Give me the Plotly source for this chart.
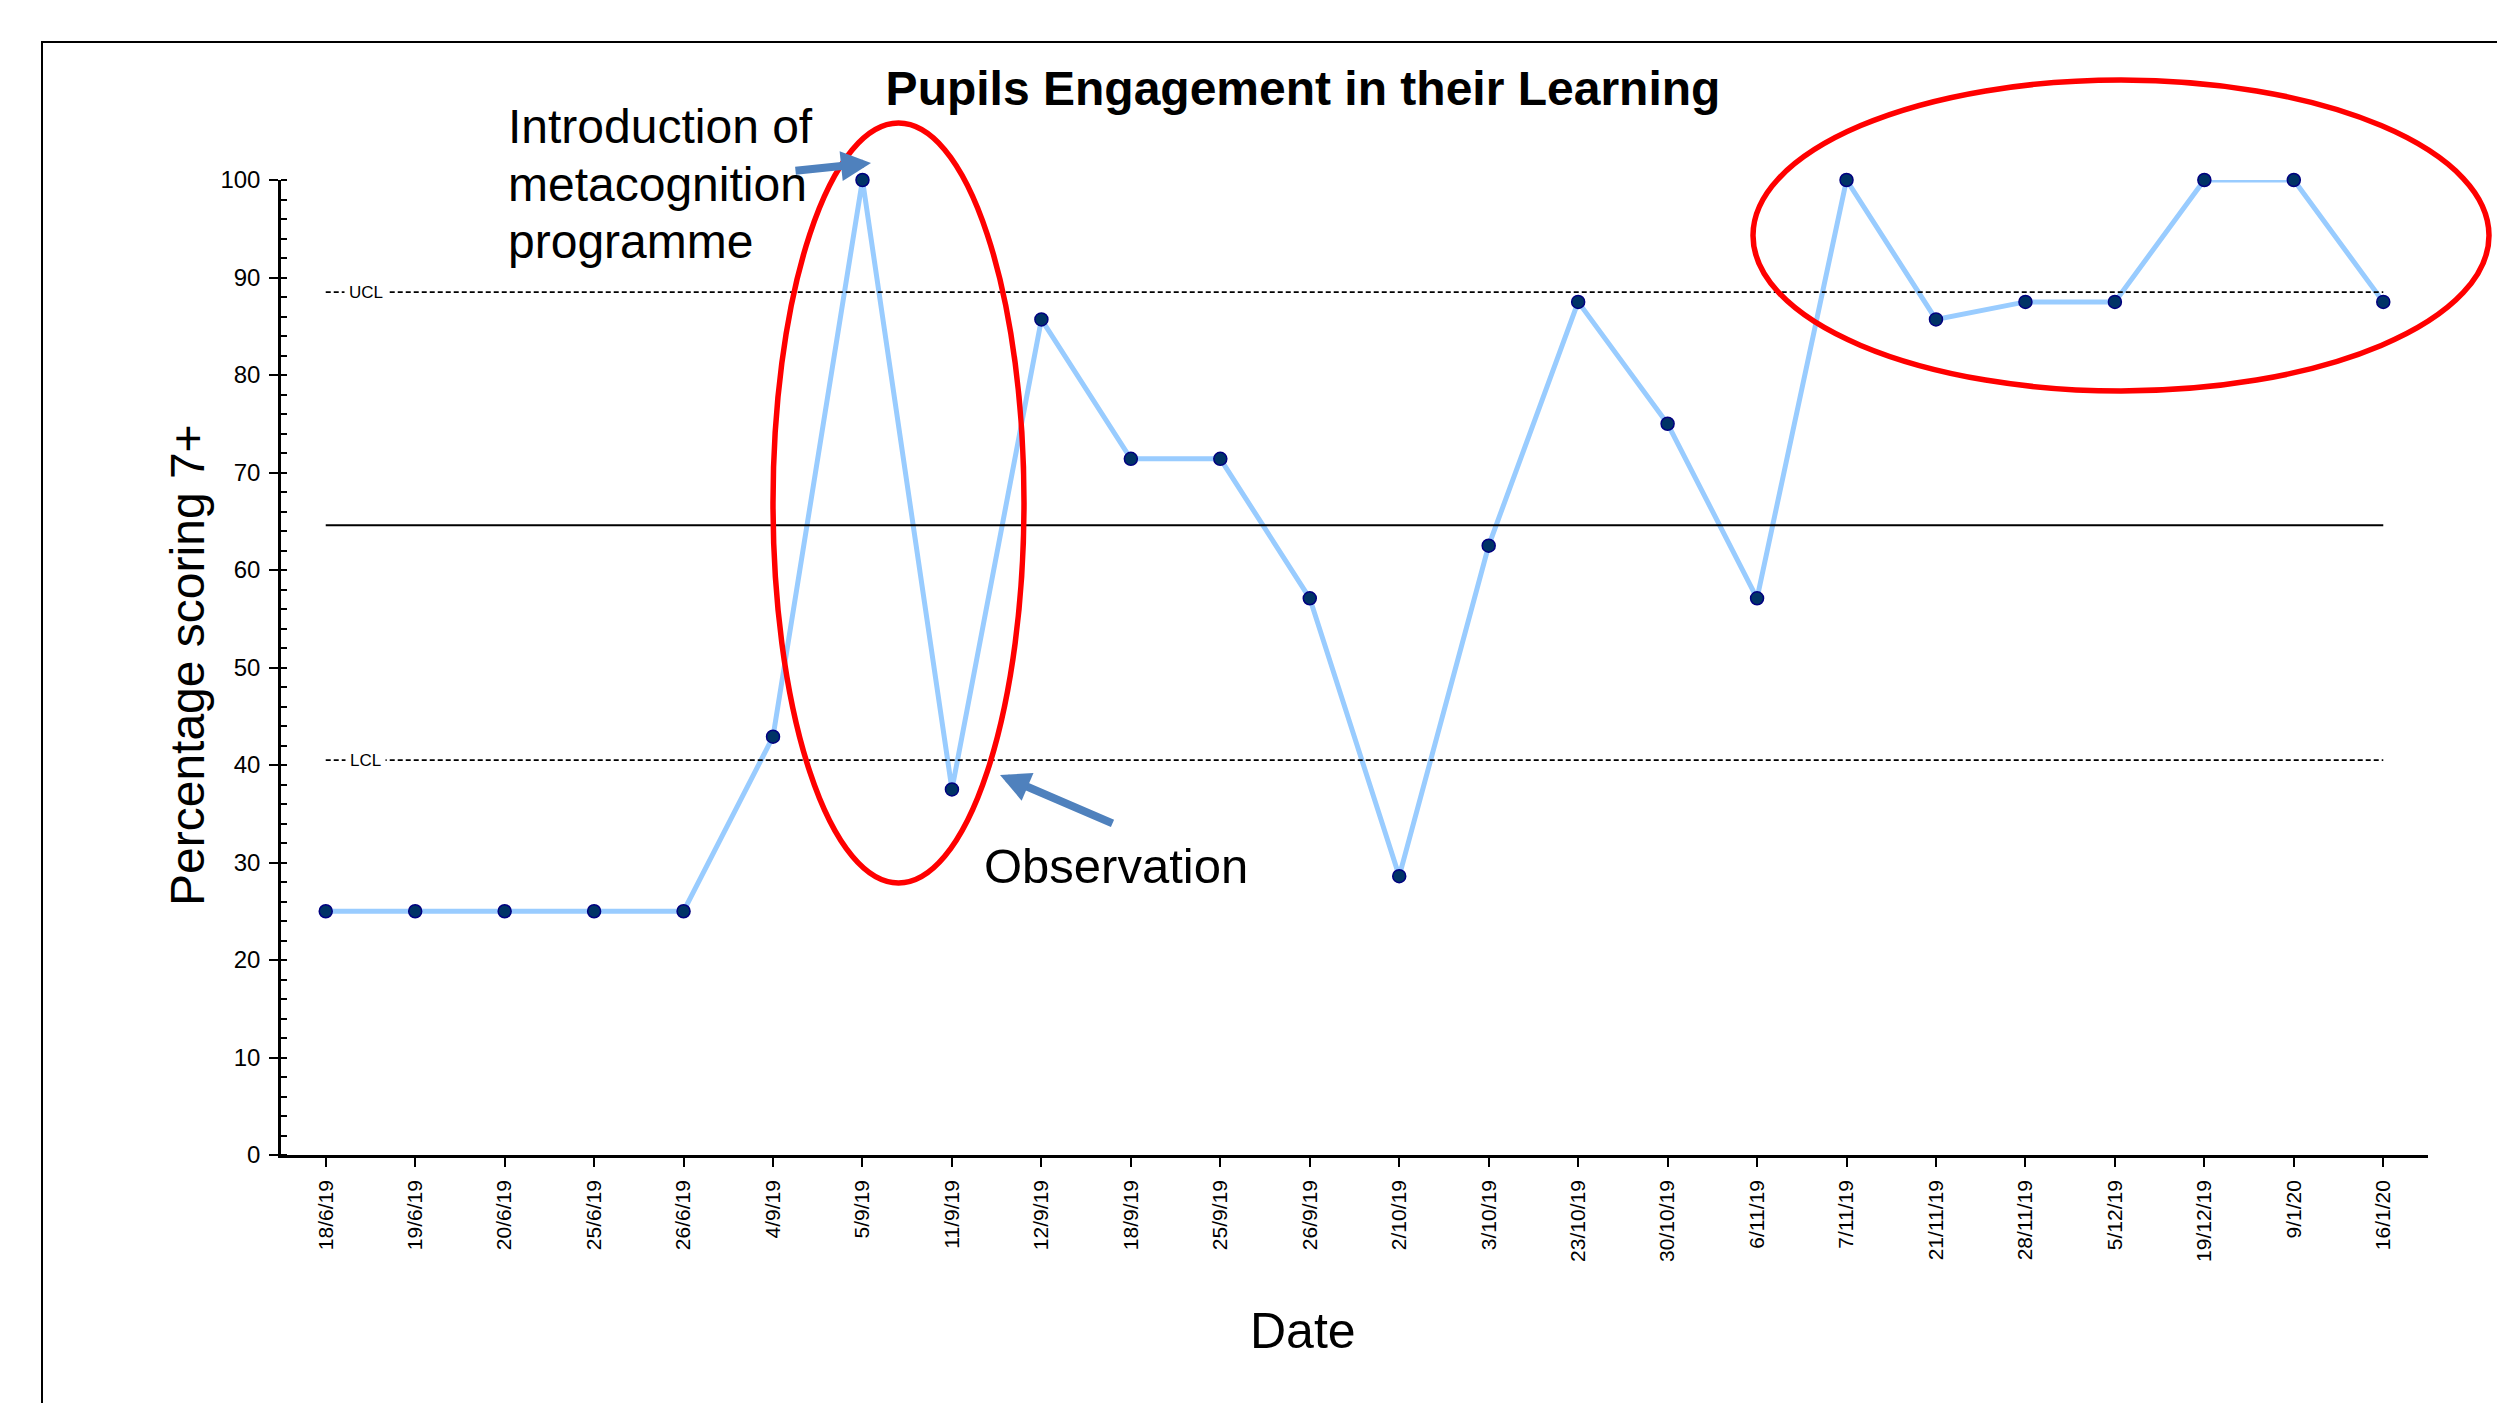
import plotly.graph_objects as go

# ---- data ----
dates = ["18/6/19", "19/6/19", "20/6/19", "25/6/19", "26/6/19", "4/9/19", "5/9/19",
         "11/9/19", "12/9/19", "18/9/19", "25/9/19", "26/9/19", "2/10/19", "3/10/19",
         "23/10/19", "30/10/19", "6/11/19", "7/11/19", "21/11/19", "28/11/19",
         "5/12/19", "19/12/19", "9/1/20", "16/1/20"]
pct_7plus = [25, 25, 25, 25, 25, 42.9, 100, 37.5, 85.7, 71.4, 71.4, 57.1, 28.6, 62.5,
             87.5, 75, 57.1, 100, 85.7, 87.5, 87.5, 100, 100, 87.5]
centre_line = 64.6
ucl = 88.5
lcl = 40.5
y_ticks = [0, 10, 20, 30, 40, 50, 60, 70, 80, 90, 100]
intro_lines = ["Introduction of", "metacognition", "programme"]

FONT = "Arial, Liberation Sans, sans-serif"

# page is offset by the 8px body margin
OFF = 8
W, H = 2505 - OFF, 1403 - OFF
# plot-area geometry in page pixels
L, R, T, B = 281, 2428, 180, 1155
def px(xp):
    return (xp - L) / (R - L)
def py(yp):
    return (B - yp) / (B - T)

idx = list(range(len(dates)))

fig = go.Figure()
fig.add_trace(go.Scatter(
    x=idx, y=pct_7plus, mode="lines+markers",
    line=dict(color="#99CCFF", width=5),
    marker=dict(color="#003366", size=13, line=dict(color="#000080", width=1.5)),
    cliponaxis=False, showlegend=False,
))

shapes = []
shapes.append(dict(type="line", xref="x", yref="y", x0=idx[0], x1=idx[-1],
                   y0=centre_line, y1=centre_line, line=dict(color="black", width=2)))
for v in (ucl, lcl):
    shapes.append(dict(type="line", xref="x", yref="y", x0=idx[0], x1=idx[-1],
                       y0=v, y1=v, line=dict(color="black", width=1.8, dash="5px,3px")))
shapes.append(dict(type="circle", xref="paper", yref="paper",
                   x0=px(773), x1=px(1024), y0=py(883), y1=py(123),
                   line=dict(color="#FF0000", width=5.5), layer="above"))
shapes.append(dict(type="circle", xref="paper", yref="paper",
                   x0=px(1753), x1=px(2489), y0=py(391), y1=py(80),
                   line=dict(color="#FF0000", width=5.5), layer="above"))
shapes.append(dict(type="rect", xref="paper", yref="paper",
                   x0=px(42), x1=px(2560), y0=py(1460), y1=py(42),
                   line=dict(color="black", width=2)))

annotations = []
for v, t in ((ucl, "UCL"), (lcl, "LCL")):
    annotations.append(dict(x=0.45, y=v, xref="x", yref="y", text=t, showarrow=False,
                            font=dict(family=FONT, size=17, color="black"),
                            bgcolor="white", borderpad=4, xanchor="center", yanchor="middle"))
for line_text, ypix in zip(intro_lines, (126, 184, 241)):
    annotations.append(dict(x=px(506), y=py(ypix), xref="paper", yref="paper",
                            text=line_text, align="left", showarrow=False,
                            font=dict(family=FONT, size=48, color="black"),
                            xanchor="left", yanchor="middle"))
annotations += [
    dict(x=px(187), y=py(665), xref="paper", yref="paper", text="Percentage scoring 7+",
         textangle=-90, showarrow=False, font=dict(family=FONT, size=48, color="black"),
         xanchor="center", yanchor="middle"),
    dict(x=px(1303), y=py(1331), xref="paper", yref="paper", text="Date",
         showarrow=False, font=dict(family=FONT, size=50, color="black"),
         xanchor="center", yanchor="middle"),
    dict(x=px(1116), y=py(866), xref="paper", yref="paper", text="Observation",
         showarrow=False, font=dict(family=FONT, size=49, color="black"),
         xanchor="center", yanchor="middle"),
    dict(x=px(871), y=py(163), xref="paper", yref="paper", text="", showarrow=True,
         ax=-77, ay=8, arrowhead=2, arrowsize=0.75, arrowwidth=8, arrowcolor="#4F81BD"),
    dict(x=px(1000), y=py(775), xref="paper", yref="paper", text="", showarrow=True,
         ax=114, ay=49, arrowhead=2, arrowsize=0.75, arrowwidth=8, arrowcolor="#4F81BD"),
]

fig.update_layout(
    width=W, height=H,
    margin=dict(l=L - OFF, r=W - (R - OFF), t=T - OFF, b=H - (B - OFF)),
    paper_bgcolor="white", plot_bgcolor="white",
    title=dict(text="<b>Pupils Engagement in their Learning</b>", xref="paper", x=px(1303),
               xanchor="center", yref="container", y=1 - (88 - OFF) / H, yanchor="middle",
               font=dict(family=FONT, size=48, color="black")),
    shapes=shapes, annotations=annotations, showlegend=False,
)
fig.update_xaxes(
    range=[-0.5, len(dates) - 0.5], tickmode="array", tickvals=idx, ticktext=dates,
    tickangle=-90, tickson="boundaries", ticks="outside", ticklen=9, tickwidth=1.5,
    tickcolor="black", showline=True, linecolor="black", linewidth=2.5,
    showgrid=False, zeroline=False, ticklabelstandoff=5,
    tickfont=dict(family=FONT, size=21, color="black"),
)
fig.update_yaxes(
    range=[0, 100], tickmode="array", tickvals=y_ticks, ticks="outside", ticklen=9,
    tickwidth=2, tickcolor="black", showline=True, linecolor="black", linewidth=2.5,
    showgrid=False, zeroline=False, ticklabelstandoff=4,
    tickfont=dict(family=FONT, size=24, color="black"),
    minor=dict(dtick=2, ticks="inside", ticklen=6, tickwidth=1.5, tickcolor="black", showgrid=False),
)

fig.write_html("out.html")
